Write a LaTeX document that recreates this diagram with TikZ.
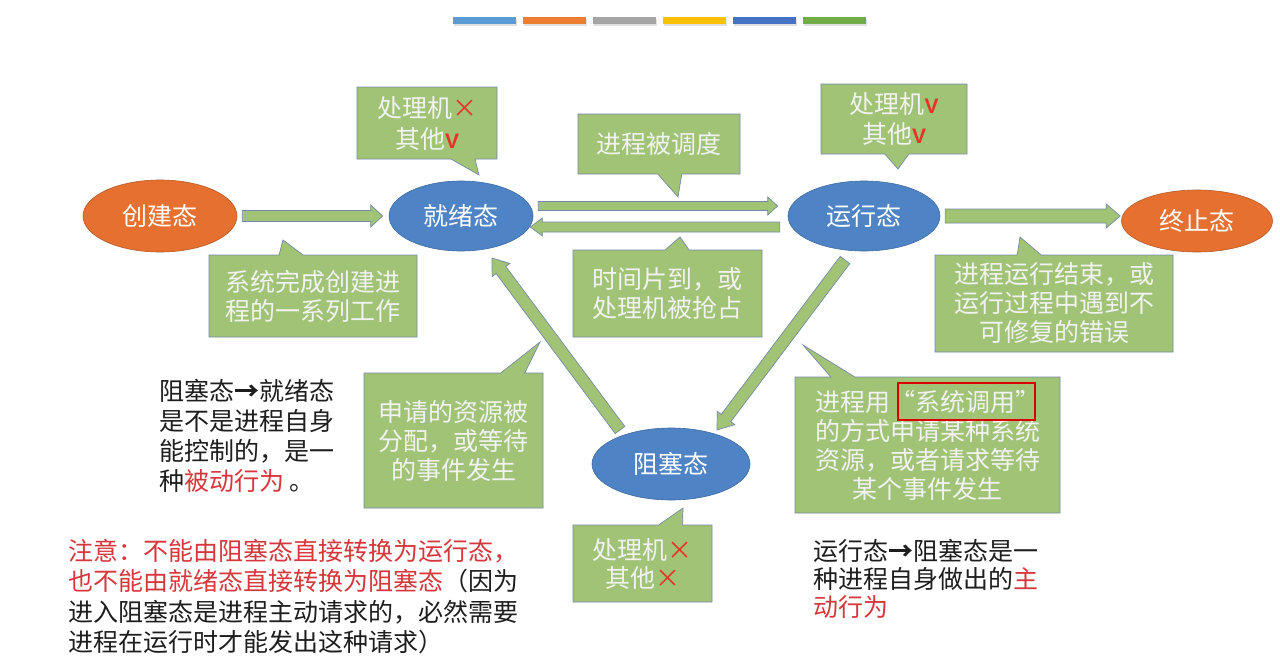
\documentclass[tikz,border=0pt]{standalone}
\usepackage{fontspec}
\setmainfont{Noto Sans CJK SC}
\newfontfamily\tickfont{Liberation Sans}
\usepackage{tikz}
\usetikzlibrary{calc,shapes.geometric,shapes.callouts}
\definecolor{barblue}{RGB}{91,155,213}
\definecolor{barorange}{RGB}{237,125,49}
\definecolor{bargray}{RGB}{165,165,165}
\definecolor{baryellow}{RGB}{255,192,0}
\definecolor{bardark}{RGB}{68,114,196}
\definecolor{bargreen}{RGB}{112,173,71}
\definecolor{stateorange}{RGB}{229,112,48}
\definecolor{stateblue}{RGB}{78,132,198}
\definecolor{notegreen}{RGB}{160,195,118}
\definecolor{noteedge}{RGB}{118,138,168}
\definecolor{notered}{RGB}{232,50,40}
\definecolor{txtred}{RGB}{215,55,60}
\definecolor{txtdark}{RGB}{30,30,30}
\newcommand{\yes}{\textcolor{notered}{\tickfont\bfseries\fontsize{21}{21}\selectfont V}}
\newcommand{\no}{\textcolor{notered}{×}}

\begin{document}
\begin{tikzpicture}[x=1pt,y=-1pt,
   phase/.style={ellipse,inner sep=0pt,draw=#1!80!black,line width=0.6pt,fill=#1,text=white,font=\fontsize{25}{29}\selectfont},
   note/.style={rectangle callout,inner sep=0pt,fill=notegreen,draw=noteedge,line width=0.7pt,text=white!95!black,align=center,font=\fontsize{25}{29}\selectfont,callout pointer width=24pt},
   flow/.style={fill=notegreen,draw=noteedge,line width=0.7pt},
   plain/.style={anchor=north west,inner sep=0pt,align=left,text=txtdark}]
% block arrow: tail, tip, half shaft, half head, head length
\newcommand{\blockarrow}[5]{\coordinate (ba) at (#1);\coordinate (bb) at (#2);
  \coordinate (bn) at ($(bb)!#5!(ba)$);
  \draw[flow] ($(ba)!#3!90:(bb)$) -- ($(bn)!#3!90:(bb)$) -- ($(bn)!#4!90:(bb)$) -- (bb)
    -- ($(bn)!#4!-90:(bb)$) -- ($(bn)!#3!-90:(bb)$) -- ($(ba)!#3!-90:(bb)$) -- cycle;}
\fill[white] (0,0) rectangle (1280,659);
\useasboundingbox (0,0) rectangle (1280,659);
% colour strip on top
\foreach \col [count=\i from 0] in {barblue,barorange,bargray,baryellow,bardark,bargreen}{
  \fill[black!12] (454+70*\i,19) rectangle ++(63,7);
  \fill[\col] (453+70*\i,17) rectangle ++(63,7);}
% states
\node[phase=stateorange,minimum width=154pt,minimum height=72pt] (create) at (160,216) {创建态};
\node[phase=stateblue,minimum width=144pt,minimum height=70pt] (ready) at (461,216) {就绪态};
\node[phase=stateblue,minimum width=152pt,minimum height=70pt] (run) at (864,216) {运行态};
\node[phase=stateorange,minimum width=151pt,minimum height=62pt] (exit) at (1197,221) {终止态};
\node[phase=stateblue,minimum width=158pt,minimum height=72pt] (block) at (671,464) {阻塞态};
% transitions
\blockarrow{$(create.east)+(5,0)$}{$(ready.west)+(-6,0)$}{5.5pt}{11pt}{12pt}
\blockarrow{$(ready.east)+(5,-10)$}{$(run.west)+(-10,-10)$}{4.5pt}{9pt}{10pt}
\blockarrow{$(run.west)+(-8,11)$}{$(ready.east)+(-3,11)$}{5pt}{9pt}{12pt}
\blockarrow{$(run.east)+(5,0)$}{$(exit.west |- run.east)+(-1,0)$}{7pt}{12pt}{14pt}
\blockarrow{$(block.center)+(-51,-34)$}{$(ready.center)+(31,42)$}{6pt}{11pt}{15pt}
\blockarrow{$(run.center)+(-19,44)$}{$(block.center)+(46,-34)$}{6pt}{11pt}{15pt}
% callouts
\node[note,minimum width=140pt,minimum height=72pt,font=\fontsize{25}{31}\selectfont,callout absolute pointer={(479,175)}] (readynote) at (427,123)
  {处理机\no\\其他\yes};
\node[note,minimum width=146pt,minimum height=70pt,font=\fontsize{25}{30}\selectfont,callout absolute pointer={(898,169)}] (runnote) at (894,119)
  {处理机\yes\\其他\yes};
\node[note,minimum width=162pt,minimum height=60pt,callout absolute pointer={(678,197)}] (dispatch) at (659,144) {进程被调度};
\node[note,minimum width=189pt,minimum height=87pt,callout absolute pointer={(680,237)}] (timeout) at (667.5,293.5) {时间片到，或\\处理机被抢占};
\node[note,minimum width=208pt,minimum height=82pt,callout absolute pointer={(283,240)}] (createnote) at (313,296) {系统完成创建进\\程的一系列工作};
\node[note,minimum width=238pt,minimum height=97pt,callout absolute pointer={(1020,237)}] (exitnote) at (1054,303.5) {进程运行结束，或\\运行过程中遇到不\\可修复的错误};
\node[note,minimum width=179pt,minimum height=135pt,callout absolute pointer={(540,342)}] (wakenote) at (453.5,440.5) {申请的资源被\\分配，或等待\\的事件发生};
\node[note,minimum width=139pt,minimum height=77pt,font=\fontsize{25}{28}\selectfont,callout absolute pointer={(683,508)}] (blocknote) at (642.5,563.5)
  {处理机\no\\其他\no};
\node[note,minimum width=265pt,minimum height=136pt,callout absolute pointer={(803,345)}] (waitnote) at (927.5,445) {进程用“系统调用”\\的方式申请某种系统\\资源，或者请求等待\\某个事件发生};
\draw[red!85!black,line width=1.6pt] (898,383) rectangle (1035,420);
% remarks
\node[plain,font=\fontsize{25}{30}\selectfont] (passive) at (159,379)
  {阻塞态{\bfseries →}就绪态\\是不是进程自身\\能控制的，是一\\种\textcolor{txtred}{被动行为} 。};
\node[plain,font=\fontsize{25}{30.5}\selectfont] (caution) at (68,539)
  {\textcolor{txtred}{注意：不能由阻塞态直接转换为运行态，}\\\textcolor{txtred}{也不能由就绪态直接转换为阻塞态}（因为\\进入阻塞态是进程主动请求的，必然需要\\进程在运行时才能发出这种请求）};
\node[plain,font=\fontsize{25}{28}\selectfont] (active) at (813,539)
  {运行态{\bfseries →}阻塞态是一\\种进程自身做出的\textcolor{txtred}{主}\\\textcolor{txtred}{动行为}};
\end{tikzpicture}
\end{document}
